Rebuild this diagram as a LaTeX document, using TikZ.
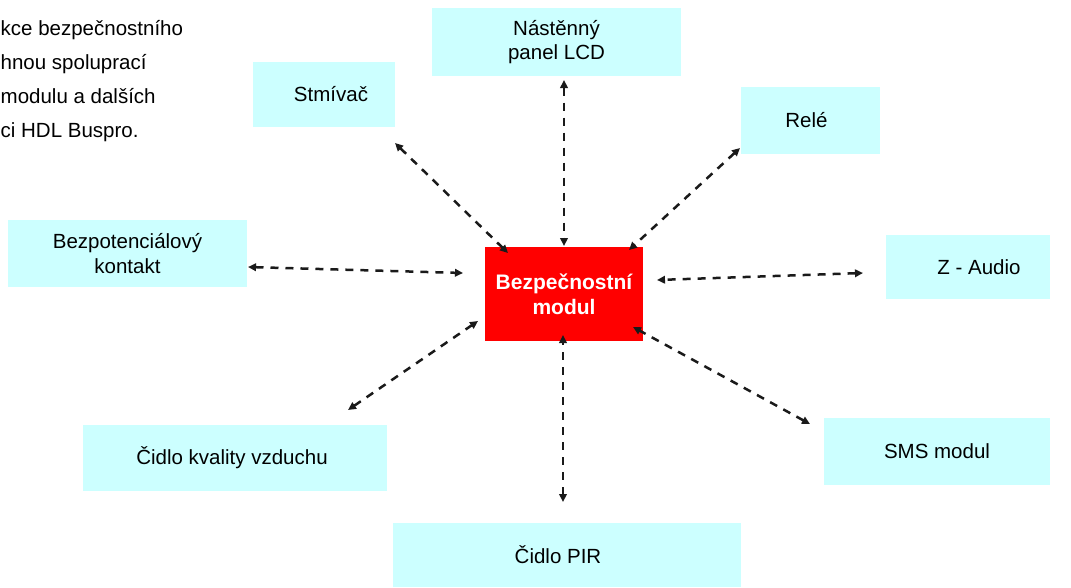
\documentclass[tikz,border=0pt]{standalone}
\usepackage{fontspec}
\setmainfont{Liberation Sans}
\usetikzlibrary{arrows.meta}
\definecolor{boxcyan}{HTML}{CCFFFF}
\definecolor{linegray}{HTML}{1A1A1A}
\tikzset{
  box/.style={fill=boxcyan, draw=none, align=center, inner sep=0pt,
    font=\fontsize{20.5}{24.5}\selectfont, text=black},
  mainbox/.style={fill=red, draw=none, align=center, inner sep=0pt,
    font=\fontsize{21}{25}\selectfont\bfseries, text=white},
  conn/.style={draw=linegray, line width=2.5pt, dash pattern=on 8pt off 7pt,
    {Triangle[length=8pt,width=7.5pt]}-{Triangle[length=8pt,width=7.5pt]}},
  note/.style={anchor=base west, inner sep=0pt, font=\fontsize{20.5}{24}\selectfont}
}
\begin{document}
\begin{tikzpicture}[x=1pt,y=-1pt]
\useasboundingbox (0,0) rectangle (1071,587);
% top-left text (cut off at the left edge in the reference)
\node[note] (t1) at (0.5,35) {kce bezpečnostního};
\node[note] (t2) at (0.5,69) {hnou spoluprací};
\node[note] (t3) at (0.5,103) {modulu a dalších};
\node[note] (t4) at (0.5,137) {ci HDL Buspro.};
% boxes
\node[mainbox, minimum width=158pt, minimum height=94pt] (mod) at (564,294) {Bezpečnostní\\modul};
\node[box, minimum width=249pt, minimum height=68pt] (lcd) at (556.5,42) {Nástěnný\\panel LCD};
\node[box, minimum width=142pt, minimum height=65pt] (stm) at (324,94.5) {\hspace*{14pt}Stmívač};
\node[box, minimum width=139pt, minimum height=67pt] (rel) at (810.5,120.5) {Relé\hspace*{8pt}};
\node[box, minimum width=239pt, minimum height=67pt] (kon) at (127.5,253.5) {Bezpotenciálový\\kontakt};
\node[box, minimum width=164pt, minimum height=64pt] (aud) at (968,267) {\hspace*{22pt}Z - Audio};
\node[box, minimum width=226pt, minimum height=67pt] (sms) at (937,451.5) {SMS modul};
\node[box, minimum width=304pt, minimum height=66pt] (vzd) at (235,458) {Čidlo kvality vzduchu\hspace*{6pt}};
\node[box, minimum width=348pt, minimum height=64pt] (pir) at (567,555) {Čidlo PIR\hspace*{18pt}};
% connector end points
\coordinate (stmA) at (395,143);  \coordinate (stmB) at (508,253);
\coordinate (lcdA) at (564,80);   \coordinate (lcdB) at (564,246);
\coordinate (relA) at (740,148);  \coordinate (relB) at (629,250);
\coordinate (konA) at (248,267);  \coordinate (konB) at (463,273);
\coordinate (audA) at (863,273);  \coordinate (audB) at (657,280);
\coordinate (vzdA) at (348,410);  \coordinate (vzdB) at (478,321);
\coordinate (smsA) at (810,424);  \coordinate (smsB) at (633,327);
\coordinate (pirA) at (563,502);  \coordinate (pirB) at (563,335);
% connectors
\draw[conn] (stmA) -- (stmB);
\draw[conn] (lcdA) -- (lcdB);
\draw[conn] (relA) -- (relB);
\draw[conn] (konA) -- (konB);
\draw[conn] (audA) -- (audB);
\draw[conn] (vzdA) -- (vzdB);
\draw[conn] (smsA) -- (smsB);
\draw[conn] (pirA) -- (pirB);
\end{tikzpicture}
\end{document}
